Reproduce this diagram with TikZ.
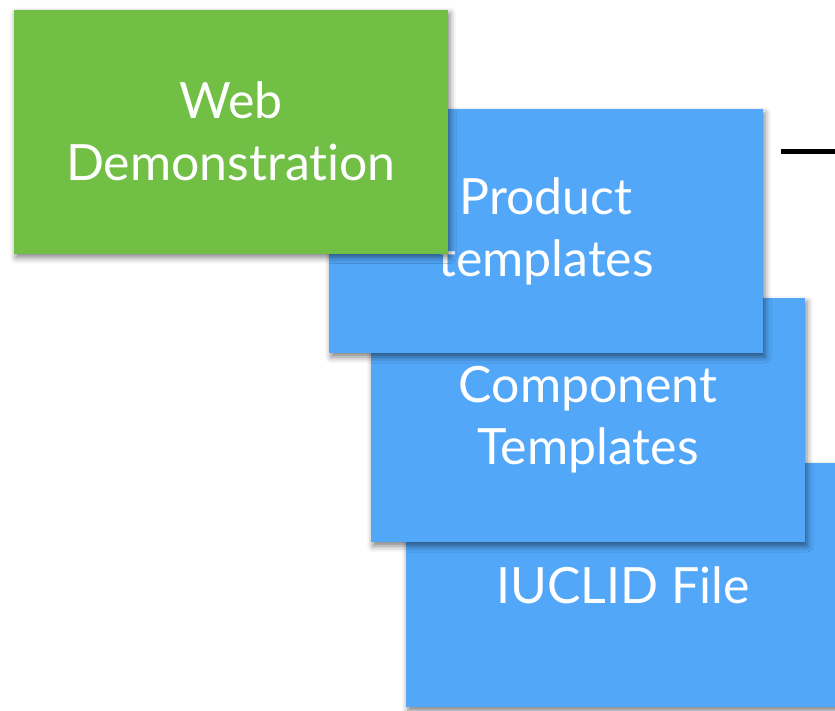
\documentclass[tikz,border=0pt]{standalone}
\usepackage{fontspec}
\setmainfont{Lato}[Ligatures=NoCommon]
\usetikzlibrary{shadows.blur}
\definecolor{boxgreen}{RGB}{113,191,68}
\definecolor{boxblue}{RGB}{82,167,249}
\tikzset{
  card/.style={rectangle, inner sep=0pt, minimum width=434pt, minimum height=244pt,
    align=center, text=white, font=\fontsize{50}{62}\selectfont,
    blur shadow={shadow xshift=2pt, shadow yshift=-4pt, shadow blur radius=6pt, shadow opacity=50}},
  greencard/.style={card, fill=boxgreen},
  bluecard/.style={card, fill=boxblue},
  linkline/.style={line width=5pt, black}
}
\begin{document}
\begin{tikzpicture}[x=1pt,y=-1pt]
\useasboundingbox (0,0) rectangle (835,710);
\clip (0,0) rectangle (835,710);
\node[bluecard] (iuclid) at (623,585) {IUCLID File};
\node[bluecard] (component) at (588,420) {Component\\Templates};
\node[bluecard] (product) at (546,231) {Product\\templates};
\node[greencard] (web) at (231,131.5) {Web\\Demonstration};
\coordinate (linkA) at (781,151);
\coordinate (linkB) at (835,151);
\draw[linkline] (linkA) -- (linkB);
\end{tikzpicture}
\end{document}
